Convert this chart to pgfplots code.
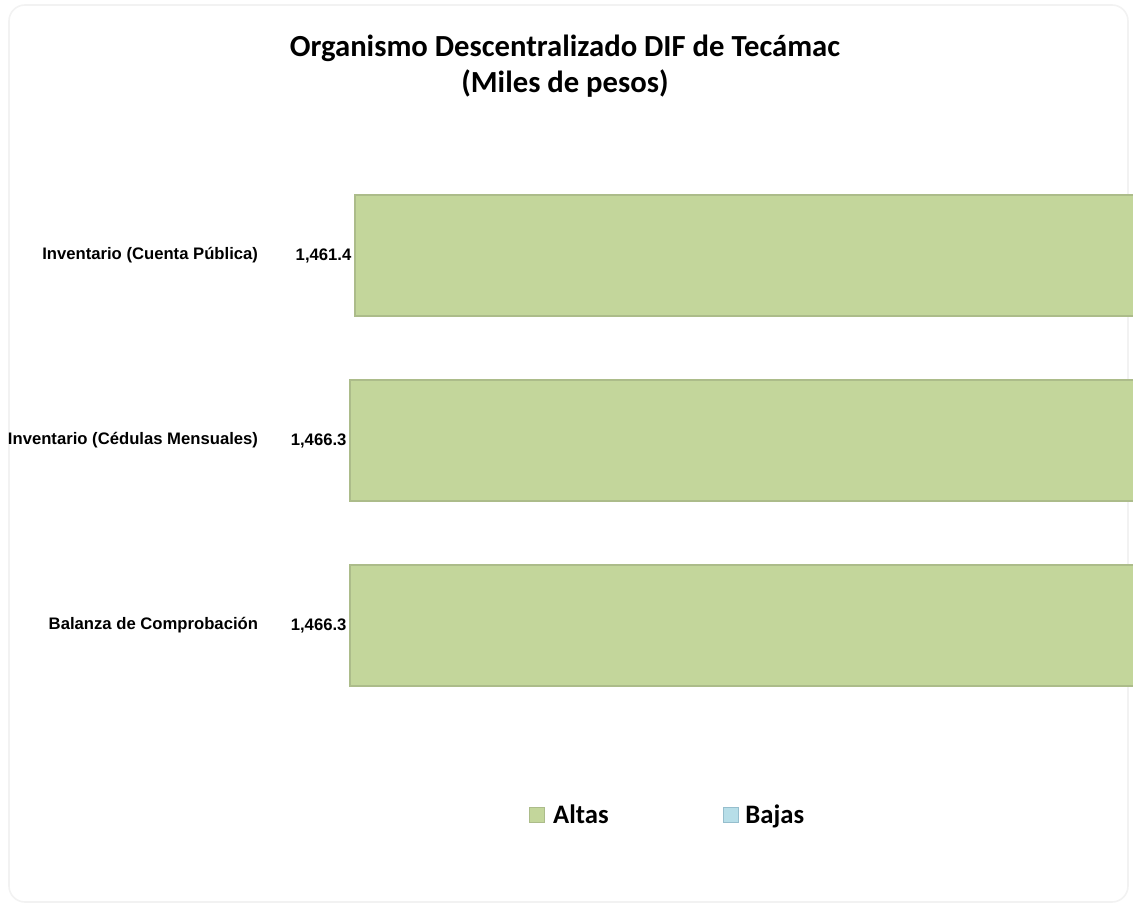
\documentclass[border=0pt]{standalone}
\usepackage{pgfplots}
\pgfplotsset{compat=1.18}
\usepackage{fontspec}
\setmainfont{Liberation Sans}
\newfontfamily\calibri{Carlito}

\definecolor{altas}{RGB}{195,214,155}
\definecolor{altasedge}{RGB}{172,188,138}
\definecolor{bajas}{RGB}{183,222,232}
\definecolor{bajasedge}{RGB}{150,190,205}

\begin{document}
\begin{tikzpicture}
% page = 1133 x 905 px, 1 px = 0.75pt, origin top left
\useasboundingbox (0pt,0pt) rectangle (849.75pt,-678.75pt);
\draw[gray!10, line width=1.2pt, rounded corners=12pt] (6.75pt,-3.75pt) rectangle (846pt,-676.5pt);

\node[font=\calibri\bfseries\fontsize{23}{28}\selectfont, anchor=base] at (423.75pt,-42.75pt)
    {Organismo Descentralizado DIF de Tecámac};
\node[font=\calibri\bfseries\fontsize{23}{28}\selectfont, anchor=base] at (423.75pt,-69.75pt)
    {(Miles de pesos)};

\begin{axis}[
    at={(255pt,-552.375pt)},
    anchor=south west,
    scale only axis,
    width=600pt,
    height=444pt,
    xbar,
    bar width=90.75pt,
    x dir=reverse,
    xmin=676.3, xmax=1476.3,
    ymin=-0.6, ymax=2.6,
    xtick=\empty,
    ytick={0,1,2},
    yticklabels={Balanza de Comprobación, Inventario (Cédulas Mensuales), Inventario (Cuenta Pública)},
    yticklabel style={anchor=east, inner sep=0pt, xshift=-57pt,
        font=\bfseries\fontsize{12.5}{15}\selectfont},
    axis line style={draw=none},
    tick style={draw=none},
    legend columns=2,
    legend style={draw=none, fill=none,
        at={(0.41,-0.1326)}, anchor=center,
        font=\calibri\bfseries\fontsize{20}{24}\selectfont,
        /tikz/every even column/.append style={column sep=84pt}},
]
\addplot[xbar, fill=altas, draw=altasedge, line width=1.3pt,
    point meta=x,
    nodes near coords={\pgfmathprintnumber[fixed, fixed zerofill, precision=1,
        1000 sep={,}, assume math mode=true]{\pgfplotspointmeta}},
    every node near coord/.append style={anchor=east, inner sep=2pt, text=black,
        font=\bfseries\fontsize{12.5}{15}\selectfont},
    legend image code/.code={\draw[fill=altas, draw=altasedge, line width=0.8pt]
        (0pt,-5.8pt) rectangle (11pt,5.8pt); \path (15pt,0pt);},
] coordinates {
    (1466.3,0)
    (1466.3,1)
    (1461.4,2)
};
\addlegendentry{Altas}
\addlegendimage{legend image code/.code={\draw[fill=bajas, draw=bajasedge, line width=0.8pt]
        (0pt,-5.8pt) rectangle (11pt,5.8pt); \path (14pt,0pt);}}
\addlegendentry{Bajas}
\end{axis}
\end{tikzpicture}
\end{document}
